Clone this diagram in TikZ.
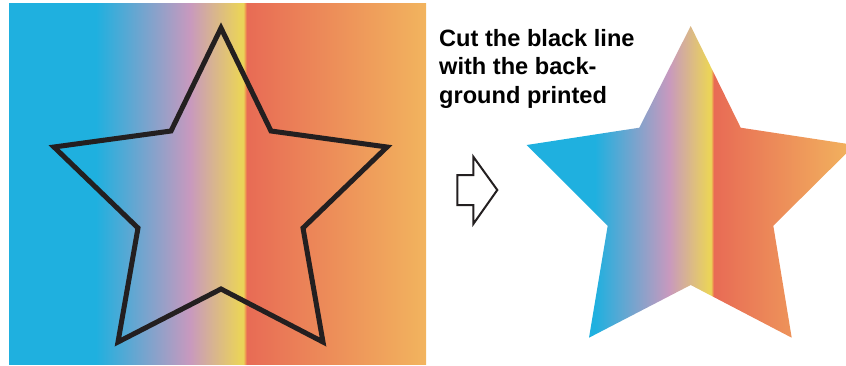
\documentclass[tikz,border=0pt]{standalone}
\usepackage{fontspec}
\setmainfont{Liberation Sans}
\usetikzlibrary{positioning}
\definecolor{InkBlack}{RGB}{35,31,32}
\definecolor{SkyCyan}{RGB}{31,176,223}
\definecolor{Lilac}{RGB}{200,153,190}
\definecolor{Butter}{RGB}{234,211,90}
\definecolor{Tangerine}{RGB}{239,160,80}
\definecolor{Coral}{RGB}{232,107,85}
\definecolor{Apricot}{RGB}{242,180,94}
% stops between 25bp and 75bp cover the bounding box of the path
\pgfdeclarehorizontalshading{rainbowband}{100bp}{%
  color(0bp)=(SkyCyan); color(25bp)=(SkyCyan); color(35.4bp)=(SkyCyan);
  color(46.7bp)=(Lilac); color(52.7bp)=(Butter); color(53.1bp)=(Butter);
  color(53.3bp)=(Tangerine); color(53.5bp)=(Coral);
  color(75bp)=(Apricot); color(100bp)=(Apricot)}

\begin{document}
\begin{tikzpicture}[
    x=1pt, y=-1pt,
    outline/.style={draw=InkBlack, line width=5pt, miter limit=10},
    hint/.style={draw=InkBlack, line width=2pt},
    caption/.style={font=\fontsize{23.6}{28.5}\selectfont\bfseries,
        align=left, inner sep=0pt, anchor=north west},
]
\clip (0,0) rectangle (846,365);

% printed background with star outline
\path[shading=rainbowband] (9,3) rectangle (426,364);
\draw[outline] (221,28) -- (271,131) -- (387,147) -- (303,228) -- (323,342)
    -- (221,289) -- (118,342) -- (138,228) -- (54,147) -- (171,131) -- cycle;

% note
\node[caption] (note) at (439,29)
    {Cut the black line\\with the back-\\ground printed};

% arrow
\draw[hint] (457.3,175) -- (473.3,175) -- (473.3,156.7) -- (497.3,190)
    -- (473.3,224) -- (473.3,205) -- (457.3,205) -- cycle;

% cut star
\path[shading=rainbowband] (690.7,26) -- (740.7,127.7) -- (854.7,145)
    -- (773.3,225.7) -- (791.7,337.7) -- (690.7,285) -- (589,337.7)
    -- (607.7,225.7) -- (526.7,145) -- (639.3,127.7) -- cycle;

\end{tikzpicture}
\end{document}
